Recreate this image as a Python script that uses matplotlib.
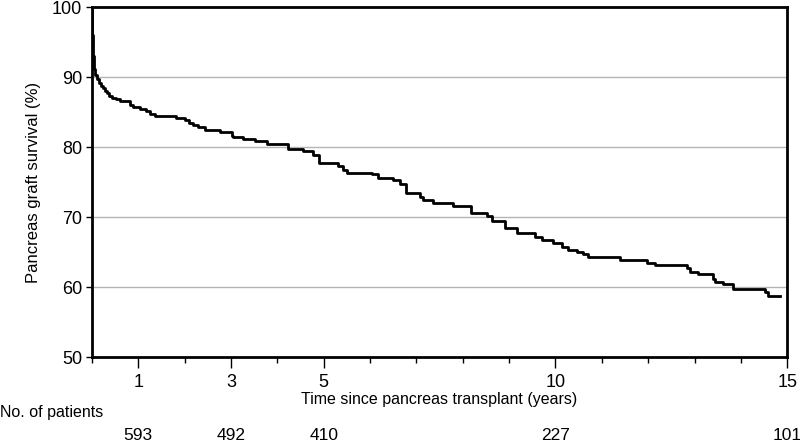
import matplotlib
matplotlib.use('Agg')
import matplotlib.pyplot as plt
import matplotlib.transforms as mtransforms

plt.rcParams['font.family'] = ['Liberation Sans', 'DejaVu Sans']

# Kaplan-Meier step curve (time in years, survival in %)
times = [0.0, 0.01, 0.02, 0.04, 0.06, 0.11, 0.15, 0.19, 0.24, 0.28, 0.32, 0.37,
         0.43, 0.52, 0.60, 0.82, 0.88, 1.04, 1.17, 1.25, 1.36, 1.58, 1.81, 2.01,
         2.09, 2.18, 2.29, 2.44, 2.76, 3.02, 3.04, 3.26, 3.52, 3.78, 4.23, 4.55,
         4.77, 4.90, 5.31, 5.42, 5.50, 6.04, 6.17, 6.50, 6.65, 6.78, 7.08, 7.14,
         7.36, 7.79, 8.18, 8.53, 8.63, 8.91, 9.17, 9.56, 9.71, 9.95, 10.14, 10.27,
         10.47, 10.60, 10.71, 11.40, 11.98, 12.15, 12.84, 12.91, 13.08, 13.40,
         13.45, 13.62, 13.84, 14.53, 14.59, 14.85]
survival = [100.0, 96.0, 93.0, 91.2, 90.3, 89.7, 89.1, 88.7, 88.4, 88.0, 87.7, 87.3,
            87.0, 86.8, 86.6, 86.0, 85.7, 85.4, 85.1, 84.8, 84.5, 84.4, 84.2, 83.9,
            83.5, 83.2, 82.9, 82.5, 82.2, 81.6, 81.4, 81.1, 80.9, 80.5, 79.7, 79.4,
            78.9, 77.7, 77.3, 76.8, 76.3, 76.1, 75.6, 75.3, 74.8, 73.5, 72.9, 72.5,
            72.0, 71.6, 70.6, 70.1, 69.5, 68.4, 67.8, 67.2, 66.7, 66.3, 65.8, 65.3,
            65.0, 64.7, 64.3, 63.9, 63.5, 63.1, 62.7, 62.2, 61.9, 61.2,
            60.8, 60.4, 59.8, 59.3, 58.7, 58.7]

# Numbers at risk
risk_years = [1, 3, 5, 10, 15]
risk_counts = [593, 492, 410, 227, 101]

x_labels = [1, 3, 5, 10, 15]
y_ticks = [50, 60, 70, 80, 90, 100]

fig = plt.figure(figsize=(8, 4.41), dpi=100)
ax = fig.add_axes([0.115, 0.19, 0.869, 0.794])

# Gridlines
for y in [60, 70, 80, 90]:
    ax.axhline(y, color='#b4b4b4', linewidth=1, zorder=1)

ax.step(times, survival, where='post', color='black', linewidth=2, zorder=3)

ax.set_xlim(0, 15)
ax.set_ylim(50, 100)

ax.set_xticks(x_labels)
ax.set_xticks(range(0, 16), minor=True)
ax.set_xticklabels([str(v) for v in x_labels], fontsize=13)
ax.set_yticks(y_ticks)
ax.set_yticklabels([str(v) for v in y_ticks], fontsize=13)
ax.tick_params(axis='x', which='major', length=8, width=1, pad=4)
ax.tick_params(axis='x', which='minor', length=4, width=1)
ax.tick_params(axis='y', which='major', length=4, width=1, pad=3)

for s in ax.spines.values():
    s.set_linewidth(2)

ax.set_xlabel('Time since pancreas transplant (years)', fontsize=11.5, labelpad=1)
ax.set_ylabel('Pancreas graft survival (%)', fontsize=12, labelpad=8)

# Number-at-risk row
fig.text(0.0, 1 - 413 / 441, 'No. of patients', fontsize=11.5, va='center', ha='left')
trans = mtransforms.blended_transform_factory(ax.transData, fig.transFigure)
for yr, n in zip(risk_years, risk_counts):
    ax.text(yr, 1 - 435 / 441, str(n), fontsize=12.5, ha='center', va='center',
            transform=trans, clip_on=False)

fig.savefig('out.png', dpi=100)
